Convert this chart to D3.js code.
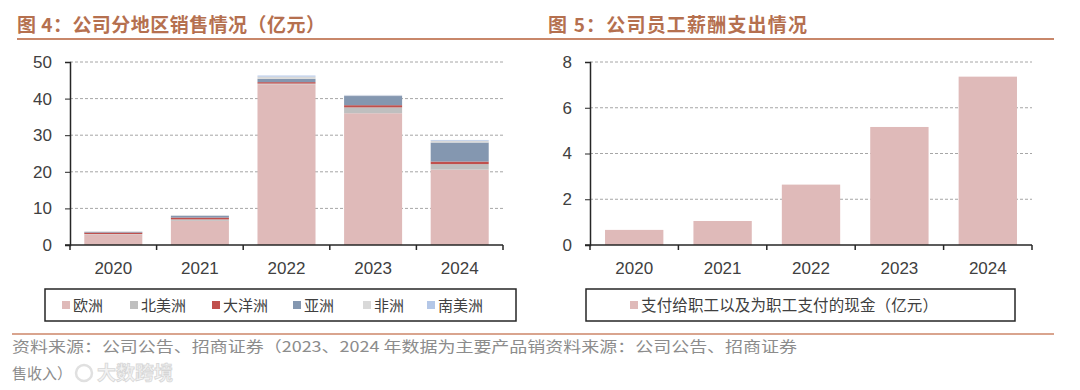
<!DOCTYPE html>
<html>
<head>
<meta charset="utf-8">
<script src="https://cdn.jsdelivr.net/npm/d3@7"></script>
<style>
  body { margin: 0; background: #fff; }
  svg { display: block; font-family: "Liberation Sans", Arial, sans-serif; }
  .cjk { font-family: "Noto Sans CJK SC", sans-serif; }
</style>
</head>
<body>
<svg id="chart" width="1080" height="390"></svg>
<script>
'use strict';

// data
const years = ['2020', '2021', '2022', '2023', '2024'];
const regions = ['欧洲', '北美洲', '大洋洲', '亚洲', '非洲', '南美洲'];
const europe = [2.9, 6.6, 43.9, 36.0, 20.6];
const northAmerica = [0.1, 0.4, 0.2, 1.6, 1.5];
const oceania = [0.4, 0.5, 0.4, 0.6, 0.7];
const asia = [0.2, 0.5, 0.9, 2.5, 5.2];
const africa = [0.1, 0.1, 0.6, 0.2, 0.5];
const southAmerica = [0.0, 0.0, 0.3, 0.1, 0.2];
const salesTicks = [0, 10, 20, 30, 40, 50];

const payroll = [0.66, 1.05, 2.64, 5.16, 7.36];
const payrollTicks = [0, 2, 4, 6, 8];
const payrollLabel = '支付给职工以及为职工支付的现金（亿元）';

const regionColors = ['#dfbab9', '#bfbfbf', '#c0504d', '#8497b0', '#d9d9d9', '#b4c7e7'];
const TITLE_COLOR = '#b5704f';

const svg = d3.select('#chart');

// titles + rules
svg.append('text').attr('class', 'cjk').attr('x', 17).attr('y', 32)
   .attr('font-size', 19).attr('font-weight', 'bold').attr('fill', TITLE_COLOR)
   .attr('textLength', 308).attr('lengthAdjust', 'spacing')
   .text('图 4：公司分地区销售情况（亿元）');
svg.append('text').attr('class', 'cjk').attr('x', 548).attr('y', 32)
   .attr('font-size', 19).attr('font-weight', 'bold').attr('fill', TITLE_COLOR)
   .attr('textLength', 259).attr('lengthAdjust', 'spacing')
   .text('图 5：公司员工薪酬支出情况');
svg.append('line').attr('x1', 17).attr('x2', 1054).attr('y1', 39).attr('y2', 39)
   .attr('stroke', '#c8876a').attr('stroke-width', 2);
svg.append('line').attr('x1', 12).attr('x2', 1054).attr('y1', 334).attr('y2', 334)
   .attr('stroke', '#d9a48e').attr('stroke-width', 2);

function drawFrame(g, x, y, ticks) {
    // dashed grid
    g.selectAll('.grid').data(ticks.slice(1)).enter().append('line')
     .attr('x1', x.range()[0]).attr('x2', x.range()[1])
     .attr('y1', d => y(d)).attr('y2', d => y(d))
     .attr('stroke', '#a6a6a6').attr('stroke-dasharray', '3,2').attr('stroke-width', 1);
}

function drawAxes(g, x, y, ticks) {
    const yAxis = g.append('g').attr('transform', `translate(${x.range()[0]},0)`)
       .call(d3.axisLeft(y).tickValues(ticks).tickSize(5).tickPadding(13));
    yAxis.select('.domain').attr('stroke', '#262626').attr('stroke-width', 1.5);
    yAxis.selectAll('.tick line').attr('stroke', '#262626');
    yAxis.selectAll('text').attr('font-size', 17).attr('fill', '#404040');

    const x0 = x.range()[0], x1 = x.range()[1];
    const base = y(0);
    g.append('line').attr('x1', x0 - 5).attr('x2', x1).attr('y1', base).attr('y2', base)
     .attr('stroke', '#262626').attr('stroke-width', 1.5);
    // ticks between categories
    const step = x.step();
    const bounds = d3.range(years.length + 1).map(i => x0 + i * step);
    g.selectAll('.xt').data(bounds).enter().append('line')
     .attr('x1', d => d).attr('x2', d => d).attr('y1', base).attr('y2', base + 5)
     .attr('stroke', '#262626').attr('stroke-width', 1.5);
    g.selectAll('.xl').data(years).enter().append('text')
     .attr('x', d => x(d) + x.bandwidth() / 2).attr('y', base + 29)
     .attr('text-anchor', 'middle').attr('font-size', 17).attr('fill', '#404040')
     .text(d => d);
}

// ---- left: stacked regional sales
const xL = d3.scaleBand().domain(years).range([70, 503]).paddingInner(0.33).paddingOuter(0.165);
const yL = d3.scaleLinear().domain([0, 50]).range([245, 62]);
const gL = svg.append('g');
drawFrame(gL, xL, yL, salesTicks);

const rows = years.map((yr, i) => ({
    year: yr,
    '欧洲': europe[i], '北美洲': northAmerica[i], '大洋洲': oceania[i],
    '亚洲': asia[i], '非洲': africa[i], '南美洲': southAmerica[i]
}));
const stacked = d3.stack().keys(regions)(rows);
gL.selectAll('.layer').data(stacked).enter().append('g')
  .attr('fill', (d, i) => regionColors[i])
  .selectAll('rect').data(d => d).enter().append('rect')
  .attr('x', d => xL(d.data.year))
  .attr('width', xL.bandwidth())
  .attr('y', d => yL(d[1]))
  .attr('height', d => Math.max(0, yL(d[0]) - yL(d[1])));
drawAxes(gL, xL, yL, salesTicks);

// legend left
svg.append('rect').attr('x', 45).attr('y', 289).attr('width', 471).attr('height', 32)
   .attr('fill', 'none').attr('stroke', '#262626').attr('stroke-width', 1.5);
const legendX = [62, 130, 212, 293, 363, 427];
const lg = svg.selectAll('.lg').data(regions).enter().append('g')
   .attr('transform', (d, i) => `translate(${legendX[i]},305)`);
lg.append('rect').attr('x', 0).attr('y', -4).attr('width', 8).attr('height', 8)
  .attr('fill', (d, i) => regionColors[i]);
lg.append('text').attr('class', 'cjk').attr('x', 11).attr('y', 5.5)
  .attr('font-size', 15).attr('fill', '#404040').text(d => d);

// ---- right: payroll
const xR = d3.scaleBand().domain(years).range([590, 1032]).paddingInner(0.34).paddingOuter(0.17);
const yR = d3.scaleLinear().domain([0, 8]).range([245, 62]);
const gR = svg.append('g');
drawFrame(gR, xR, yR, payrollTicks);
gR.selectAll('.bar').data(payroll).enter().append('rect')
  .attr('x', (d, i) => xR(years[i])).attr('width', xR.bandwidth())
  .attr('y', d => yR(d)).attr('height', d => yR(0) - yR(d))
  .attr('fill', regionColors[0]);
drawAxes(gR, xR, yR, payrollTicks);

svg.append('rect').attr('x', 586).attr('y', 289).attr('width', 429).attr('height', 32)
   .attr('fill', 'none').attr('stroke', '#262626').attr('stroke-width', 1.5);
svg.append('rect').attr('x', 630).attr('y', 301).attr('width', 8).attr('height', 8)
   .attr('fill', regionColors[0]);
svg.append('text').attr('class', 'cjk').attr('x', 641).attr('y', 310.5)
   .attr('font-size', 15.5).attr('fill', '#404040')
   .attr('textLength', 297).attr('lengthAdjust', 'spacing').text(payrollLabel);

// ---- source line and watermark
svg.append('text').attr('class', 'cjk').attr('x', 12).attr('y', 352)
   .attr('font-size', 15).attr('fill', '#8c8c8c')
   .attr('textLength', 785).attr('lengthAdjust', 'spacingAndGlyphs')
   .text('资料来源：公司公告、招商证券（2023、2024 年数据为主要产品销资料来源：公司公告、招商证券');
svg.append('text').attr('class', 'cjk').attr('x', 12).attr('y', 379)
   .attr('font-size', 15).attr('fill', '#8c8c8c').text('售收入）');
svg.append('circle').attr('cx', 84).attr('cy', 373).attr('r', 8)
   .attr('fill', 'none').attr('stroke', '#e0e0e0').attr('stroke-width', 2.5);
svg.append('text').attr('class', 'cjk').attr('x', 97).attr('y', 380)
   .attr('font-size', 19).attr('font-weight', 'bold').attr('fill', '#f2f2f2')
   .attr('stroke', '#d0d0d0').attr('stroke-width', 0.8).attr('opacity', 0.85)
   .text('大数跨境');
</script>
</body>
</html>
